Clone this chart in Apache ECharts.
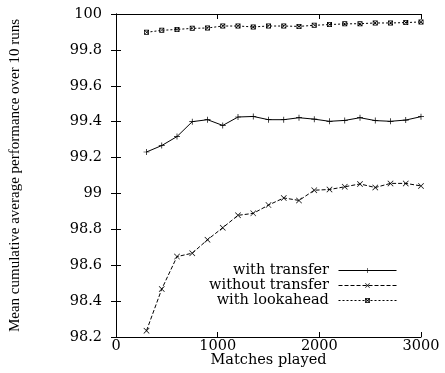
<!DOCTYPE html>
<html>
<head>
<meta charset="utf-8">
<script src="https://cdn.jsdelivr.net/npm/echarts@6/dist/echarts.min.js"></script>
<style>
  html, body { margin: 0; padding: 0; background: #fff; }
  #chart { width: 445px; height: 373px; }
</style>
</head>
<body>
<div id="chart"></div>
<script>
// matches played (x) for every sample
const matches = [300, 450, 600, 750, 900, 1050, 1200, 1350, 1500, 1650, 1800,
                 1950, 2100, 2250, 2400, 2550, 2700, 2850, 3000];

const withTransfer = [99.231, 99.267, 99.317, 99.400, 99.411, 99.379, 99.426, 99.429,
                      99.411, 99.411, 99.422, 99.414, 99.402, 99.407, 99.422, 99.406,
                      99.402, 99.409, 99.428];

const withoutTransfer = [98.235, 98.467, 98.648, 98.667, 98.742, 98.809, 98.878, 98.889,
                         98.935, 98.975, 98.961, 99.018, 99.022, 99.037, 99.053, 99.033,
                         99.056, 99.056, 99.042];

const withLookahead = [99.898, 99.909, 99.914, 99.920, 99.922, 99.933, 99.933, 99.928,
                       99.933, 99.933, 99.931, 99.937, 99.941, 99.945, 99.946, 99.950,
                       99.950, 99.952, 99.956];

const seriesNames = ['with transfer', 'without transfer', 'with lookahead'];

const FONT = 'DejaVu Serif';
const FS = 14.5;

// marker shapes
const plusSym = 'path://M0,4.4H10V5.6H0Z M4.4,0H5.6V10H4.4Z';
const crossSym = 'path://M0,0.8L0.8,0L10,9.2L9.2,10Z M9.2,0L10,0.8L0.8,10L0,9.2Z';
const boxSym = 'path://M0,0H10V10H0Z M1.5,1.5V8.5H8.5V1.5Z M0,0.8L0.8,0L10,9.2L9.2,10Z M9.2,0L10,0.8L0.8,10L0,9.2Z';

function pairs(ys) {
  return matches.map((m, i) => [m, ys[i]]);
}

function makeSeries(name, ys, sym, size, dash) {
  return {
    name: name,
    type: 'line',
    data: pairs(ys),
    symbol: sym,
    symbolSize: size,
    showSymbol: true,
    animation: false,
    lineStyle: { color: '#000', width: 1, type: dash },
    itemStyle: { color: '#000' }
  };
}

const chart = echarts.init(document.getElementById('chart'));

const xCommon = {
  type: 'value', min: 0, max: 3000, interval: 1000,
  axisLine: { show: true, lineStyle: { color: '#000', width: 1 } },
  axisTick: { show: true, inside: true, length: 5, lineStyle: { color: '#000' } },
  splitLine: { show: false }
};
const yCommon = {
  type: 'value', min: 98.2, max: 100, interval: 0.2,
  axisLine: { show: true, lineStyle: { color: '#000', width: 1 } },
  axisTick: { show: true, inside: true, length: 5, lineStyle: { color: '#000' } },
  splitLine: { show: false }
};

chart.setOption({
  backgroundColor: '#fff',
  grid: { left: 116, right: 24, top: 14, bottom: 36, containLabel: false, outerBoundsMode: 'none' },
  legend: {
    data: seriesNames,
    orient: 'vertical',
    align: 'right',
    right: 43,
    top: 258,
    itemWidth: 58,
    itemHeight: 6,
    itemGap: 0,
    lineStyle: { width: 1 },
    formatter: name => name + ' ',
    textStyle: { fontFamily: FONT, fontSize: FS, color: '#000', lineHeight: 12 }
  },
  xAxis: [
    Object.assign({}, xCommon, {
      position: 'bottom',
      name: 'Matches played',
      nameLocation: 'middle',
      nameGap: 16,
      nameMoveOverlap: false,
      nameTextStyle: { fontFamily: FONT, fontSize: FS, color: '#000' },
      axisLabel: {
        fontFamily: FONT, fontSize: FS, color: '#000', margin: 2,
        formatter: v => String(v)
      }
    }),
    Object.assign({}, xCommon, { position: 'top', axisLabel: { show: false } })
  ],
  yAxis: [
    Object.assign({}, yCommon, {
      position: 'left',
      name: 'Mean cumulative average performance over 10 runs',
      nameLocation: 'middle',
      nameGap: 93,
      nameMoveOverlap: false,
      nameTextStyle: { fontFamily: 'Liberation Serif', fontSize: 15, color: '#000' },
      axisLabel: {
        fontFamily: FONT, fontSize: FS, color: '#000', margin: 14,
        formatter: v => String(+v.toFixed(1))
      }
    }),
    Object.assign({}, yCommon, { position: 'right', axisLabel: { show: false } })
  ],
  series: [
    makeSeries(seriesNames[0], withTransfer, plusSym, 6, 'solid'),
    makeSeries(seriesNames[1], withoutTransfer, crossSym, 6, [4, 2]),
    makeSeries(seriesNames[2], withLookahead, boxSym, 5, [2, 2])
  ]
});
</script>
</body>
</html>
